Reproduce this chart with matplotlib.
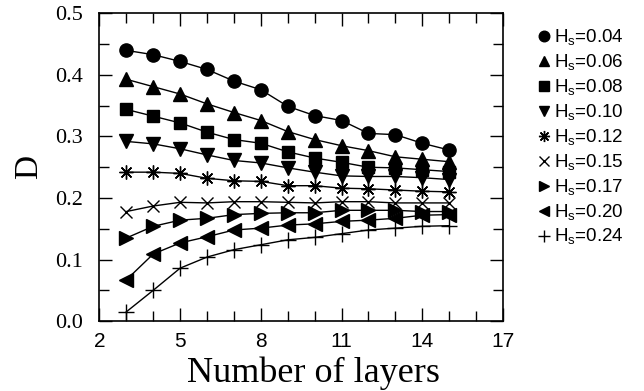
import matplotlib
matplotlib.use("Agg")
import matplotlib.pyplot as plt
import numpy as np

# layers on the x axis
layers = [3, 4, 5, 6, 7, 8, 9, 10, 11, 12, 13, 14, 15]

# D values for each H_s
d_004 = [0.440, 0.433, 0.422, 0.409, 0.390, 0.376, 0.349, 0.334, 0.326, 0.305, 0.303, 0.289, 0.278]
d_006 = [0.393, 0.381, 0.369, 0.353, 0.339, 0.326, 0.308, 0.295, 0.285, 0.277, 0.267, 0.263, 0.259]
d_008 = [0.344, 0.333, 0.322, 0.307, 0.295, 0.289, 0.275, 0.265, 0.258, 0.250, 0.249, 0.246, 0.243]
d_010 = [0.292, 0.288, 0.280, 0.270, 0.261, 0.257, 0.249, 0.242, 0.236, 0.235, 0.235, 0.233, 0.230]
d_012 = [0.242, 0.242, 0.240, 0.232, 0.228, 0.227, 0.220, 0.220, 0.216, 0.215, 0.213, 0.211, 0.210]
d_015 = [0.178, 0.187, 0.193, 0.192, 0.194, 0.194, 0.193, 0.192, 0.194, 0.194, 0.192, 0.192, 0.192]
d_017 = [0.135, 0.154, 0.164, 0.167, 0.173, 0.175, 0.176, 0.176, 0.180, 0.180, 0.180, 0.178, 0.178]
d_020 = [0.067, 0.109, 0.127, 0.137, 0.148, 0.151, 0.156, 0.158, 0.162, 0.164, 0.167, 0.172, 0.173]
d_024 = [0.015, 0.050, 0.086, 0.104, 0.116, 0.124, 0.132, 0.136, 0.142, 0.148, 0.151, 0.154, 0.155]

hs_labels = ["0.04", "0.06", "0.08", "0.10", "0.12", "0.15", "0.17", "0.20", "0.24"]
series = [d_004, d_006, d_008, d_010, d_012, d_015, d_017, d_020, d_024]
markers = ["o", "^", "s", "v", (8, 2, 0), "x", ">", "<", "+"]
msizes = [9.5, 9.5, 8.5, 9.5, 10, 8.5, 9.5, 9.5, 11]

x_ticks = [2, 5, 8, 11, 14, 17]
y_ticks = [0.0, 0.1, 0.2, 0.3, 0.4, 0.5]

serif = "Liberation Serif"
sans = "Liberation Sans"

fig = plt.figure(figsize=(6.44, 3.91), dpi=100)
ax = fig.add_axes([0.1545, 0.179, 0.6265, 0.7865])

for vals, mk, ms, lab in zip(series, markers, msizes, hs_labels):
    ax.plot(layers, vals, color="black", lw=1.0, marker=mk, markersize=ms,
            markeredgewidth=1.0, label="H$_\\mathregular{s}$=" + lab)

ax.set_xlim(2, 17)
ax.set_ylim(0, 0.5)
ax.set_xticks(x_ticks)
ax.set_xticks(np.arange(2, 18, 1), minor=True)
ax.set_yticks(y_ticks)
ax.set_yticks(np.arange(0, 0.55, 0.05), minor=True)
ax.set_xticklabels([str(t) for t in x_ticks], fontfamily=sans, fontsize=15)
ax.set_yticklabels(["%.1f" % t for t in y_ticks], fontfamily=serif, fontsize=16)
ax.tick_params(which="both", direction="in", top=True, right=True, width=1.0)
ax.tick_params(which="major", length=9.5)
ax.tick_params(axis="x", which="major", pad=8)
ax.tick_params(axis="y", which="major", pad=12)
ax.tick_params(which="minor", length=7)
for sp in ax.spines.values():
    sp.set_linewidth(1.2)

ax.set_xlabel("Number of layers", fontfamily=serif, fontsize=26, labelpad=2)
ax.xaxis.set_label_coords(0.53, -0.115, transform=ax.transAxes)
ax.xaxis.label.set_va("top")
ax.set_ylabel("D", fontfamily=serif, fontsize=24, labelpad=8)

leg = ax.legend(loc="upper left", bbox_to_anchor=(1.045, 1.01), frameon=False,
                handlelength=0.6, handletextpad=0.25, labelspacing=0.25,
                prop={"family": sans, "size": 13.5}, markerscale=0.8)
for h in leg.legend_handles:
    h.set_linestyle("none")

fig.savefig("out.png", dpi=100)
